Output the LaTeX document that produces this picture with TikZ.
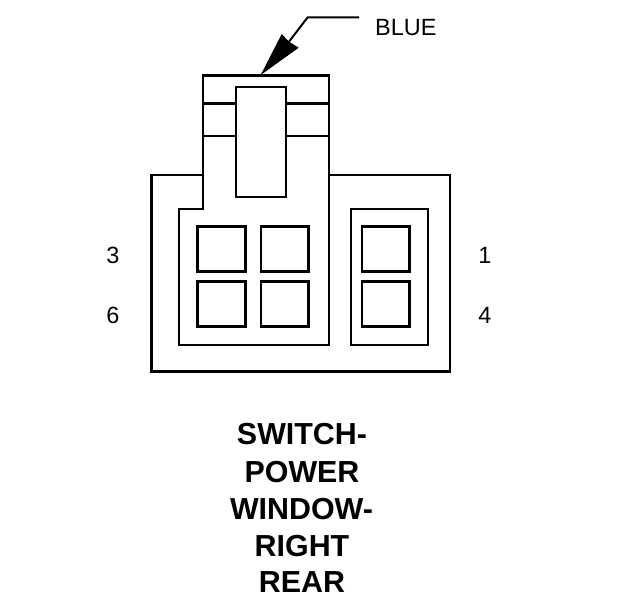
\documentclass[tikz,border=0pt]{standalone}
\usepackage{fontspec}
\setmainfont{Liberation Sans}
\tikzset{
  thickline/.style={draw=black,line width=2.7pt},
  thinline/.style={draw=black,line width=2.4pt},
  pinbox/.style={draw=black,line width=2.8pt},
  pinlabel/.style={font=\fontsize{23.5}{23.5}\selectfont,inner sep=0pt},
  titleline/.style={font=\fontsize{30.4}{30.4}\selectfont\bfseries,inner sep=0pt,anchor=base}
}
\begin{document}
\begin{tikzpicture}[x=1pt,y=-1pt]
\useasboundingbox (0,0) rectangle (624,600);

% housing
\draw[thickline] (203,175) -- (151.5,175) -- (151.5,371.7) -- (450,371.7) -- (450,175) -- (329,175);
\draw[thinline] (203,75.5) -- (203,209) -- (179,209) -- (179,345) -- (329,345) -- (329,75.5) -- cycle;
\draw[thinline] (351,209) rectangle (428,345);

% latch
\draw[thickline] (236,87) rectangle (286,197);
\draw[thickline] (203,103.5) -- (236,103.5);
\draw[thickline] (286,103.5) -- (329,103.5);
\draw[thinline] (203,136) -- (236,136);
\draw[thinline] (286,136) -- (329,136);

% cavities
\foreach \x in {197.5,261,362}
  \foreach \y in {226.7,281.7}
    \draw[pinbox] (\x,\y) rectangle ++(47.8,44.5);

% leader
\coordinate (tip) at (260.7,75);
\coordinate (notch) at (289,41.7);
\coordinate (bend) at (307.7,17.3);
\coordinate (leaderend) at (359,17.3);
\fill[black] (tip) -- (281.7,34) -- (notch) -- (298.7,47.7) -- cycle;
\draw[line width=2pt] (notch) -- (bend) -- (leaderend);
\node[pinlabel,anchor=base west] (blue) at (375,35.5) {BLUE};

% pins
\node[pinlabel,anchor=base] (pinthree) at (113,263) {3};
\node[pinlabel,anchor=base] (pinsix) at (113,323.5) {6};
\node[pinlabel,anchor=base] (pinone) at (485,263) {1};
\node[pinlabel,anchor=base] (pinfour) at (485,323.5) {4};

% title
\node[titleline] (titlea) at (302,444) {SWITCH-};
\node[titleline] (titleb) at (302,482) {POWER};
\node[titleline] (titlec) at (301.5,519) {WINDOW-};
\node[titleline] (titled) at (302,556) {RIGHT};
\node[titleline] (titlee) at (302,592) {REAR};
\end{tikzpicture}
\end{document}
